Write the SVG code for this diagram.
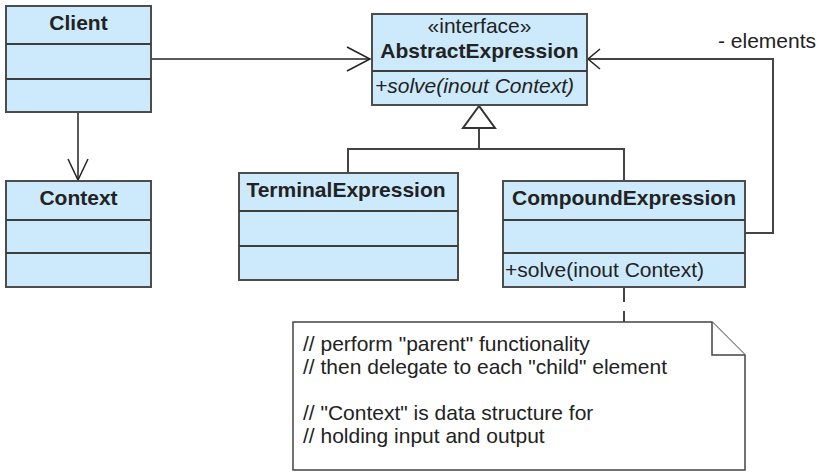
<svg xmlns="http://www.w3.org/2000/svg" width="820" height="475" viewBox="0 0 820 475">
<style>
.box{fill:#cdeafd;stroke:#4d4d4d;stroke-width:2}
.div{stroke:#3d3d3d;stroke-width:2}
.t{font-family:"Liberation Sans",Arial,sans-serif;font-size:21px;fill:#222}
.b{font-weight:bold;text-anchor:middle}
.c{text-anchor:middle}
.ln{fill:none;stroke:#222;stroke-width:1.5}
.gl{fill:none;stroke:#444;stroke-width:2}
.note{fill:#fff;stroke:#444;stroke-width:1.5}
</style>
<rect width="820" height="475" fill="#fff"/>
<g id="connectors">
<path class="ln" d="M151,59 H370"/>
<path class="ln" d="M347,47 L370,59 L347,71"/>
<path class="ln" d="M78,112 V180"/>
<path class="ln" d="M68,159 L78,180 L88,159"/>
<path class="gl" d="M745,233 H773 V59 H589"/>
<path class="ln" d="M600,49 L588,59 L600,69"/>
<path class="gl" d="M479,128 V149 M348,173 V149 H624 V181"/>
<polygon points="479,106 463,128 495,128" fill="#fff" stroke="#333" stroke-width="2"/>
<path class="gl" d="M624,288 V322" stroke-dasharray="14 9"/>
<text class="t" x="718" y="48">- elements</text>
</g>
<g id="Client">
<rect class="box" x="6" y="6" width="145" height="106"/>
<path class="div" d="M6,44 H151 M6,79 H151"/>
<text class="t b" x="78.5" y="30">Client</text>
</g>
<g id="Context">
<rect class="box" x="6" y="181" width="145" height="106"/>
<path class="div" d="M6,220 H151 M6,253 H151"/>
<text class="t b" x="78.5" y="205">Context</text>
</g>
<g id="AbstractExpression">
<rect class="box" x="372" y="14" width="215" height="91"/>
<path class="div" d="M372,71 H587"/>
<text class="t c" x="479.5" y="33">«interface»</text>
<text class="t b" x="479.5" y="58">AbstractExpression</text>
<text class="t" x="375" y="93" font-style="italic">+solve(inout Context)</text>
</g>
<g id="TerminalExpression">
<rect class="box" x="239" y="173" width="219" height="107"/>
<path class="div" d="M239,211 H458 M239,246 H458"/>
<text class="t b" x="346" y="197">TerminalExpression</text>
</g>
<g id="CompoundExpression">
<rect class="box" x="503" y="181" width="242" height="106"/>
<path class="div" d="M503,220 H745 M503,253 H745"/>
<text class="t b" x="624" y="205">CompoundExpression</text>
<text class="t" x="505" y="277">+solve(inout Context)</text>
</g>
<g id="Note">
<path class="note" d="M293,322 H712 L745,355 V470 H293 Z"/>
<path class="note" d="M712,322 V355 H745" fill="none"/>
<text class="t" x="303" y="351">// perform "parent" functionality</text>
<text class="t" x="303" y="374">// then delegate to each "child" element</text>
<text class="t" x="303" y="420">// "Context" is data structure for</text>
<text class="t" x="303" y="443">// holding input and output</text>
</g>
</svg>
